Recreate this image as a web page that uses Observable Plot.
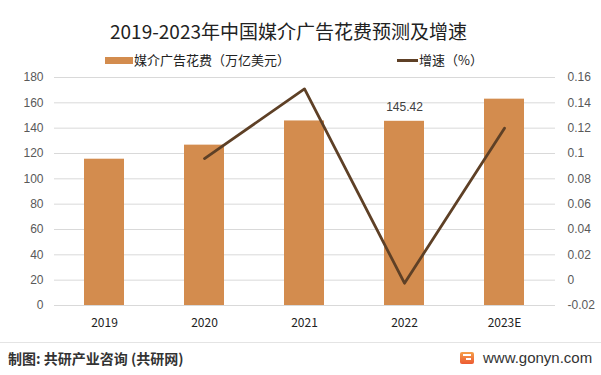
<!DOCTYPE html>
<html><head><meta charset="utf-8">
<script src="https://cdn.jsdelivr.net/npm/d3@7"></script>
<script src="https://cdn.jsdelivr.net/npm/@observablehq/plot@0.6"></script>
<style>
body{margin:0;background:#fff;}
#wrap{position:relative;width:601px;height:375px;overflow:hidden;font-family:"Noto Sans CJK SC","Noto Sans",sans-serif;}
#title{position:absolute;top:16px;left:-12px;width:601px;text-align:center;font-size:19px;color:#222;line-height:30px;}
.leg{position:absolute;top:51px;font-size:13px;color:#222;line-height:18px;display:flex;align-items:center;}
.sw-bar{display:inline-block;width:28px;height:7px;background:#d38c4e;margin-right:1px;}
.sw-line{display:inline-block;width:21px;height:3px;background:#5e4026;margin-right:1px;}
#chart{position:absolute;top:68px;left:0;}
#sep{position:absolute;top:342px;left:0;width:601px;height:1px;background:#e4e4e4;}
#src{position:absolute;top:347px;left:8px;font-size:14px;color:#333;font-weight:bold;line-height:22px;}
#site{position:absolute;top:347px;left:460px;font-size:15px;color:#333;line-height:22px;display:flex;align-items:center;font-family:"Liberation Sans",Arial,sans-serif;}
#logo{width:14px;height:12px;border-radius:2px;background:linear-gradient(#f5a04a,#ec5a32);margin-right:9px;position:relative;}
#logo:before{content:"";position:absolute;left:3px;top:2px;width:8px;height:2px;background:#fff;}
#logo:after{content:"";position:absolute;left:6px;top:6px;width:5px;height:2px;background:#fff;}
</style></head>
<body><div id="wrap">
<div id="title">2019-2023年中国媒介广告花费预测及增速</div>
<div class="leg" style="left:105px"><span class="sw-bar"></span>媒介广告花费（万亿美元）</div>
<div class="leg" style="left:397px"><span class="sw-line"></span>增速（%）</div>
<div id="chart"></div>
<div id="sep"></div>
<div id="src">制图: 共研产业咨询 (共研网)</div>
<div id="site"><span id="logo"></span>www.gonyn.com</div>
</div>
<script>
const years = ["2019","2020","2021","2022","2023E"];
const spend = [115.5, 126.6, 145.7, 145.42, 162.9];
const growth = [null, 0.096, 0.151, -0.0024, 0.12];
const leftTicks = [0,20,40,60,80,100,120,140,160,180];
const rightMin = -0.02, rightMax = 0.16;

const toLeft = g => (g - rightMin) / (rightMax - rightMin) * 180;
const bars = years.map((y,i)=>({year:y, v:spend[i]}));
const line = years.map((y,i)=>({year:y, g:growth[i]})).filter(d=>d.g!==null);
const labels = bars.filter(d=>d.year==="2022");

const plot = Plot.plot({
  width: 601, height: 268,
  marginTop: 9, marginBottom: 31, marginLeft: 54, marginRight: 46,
  style: {fontFamily: '"Liberation Sans",Arial,sans-serif', fontSize: "12px", color: "#595959", background: "transparent"},
  x: {domain: years, paddingInner: 0.6, paddingOuter: 0.3, label: null},
  y: {domain: [0,180], label: null},
  marks: [
    Plot.ruleY(leftTicks, {stroke: "#d9d9d9", strokeWidth: 1}),
    Plot.axisY({ticks: leftTicks, tickSize: 0, tickPadding: 11, label: null, anchor: "left", fill: "#595959"}),
    Plot.axisY({ticks: leftTicks, tickSize: 0, tickPadding: 12, label: null, anchor: "right",
      tickFormat: v => String(+(v/180*(rightMax-rightMin)+rightMin).toFixed(2)), fill: "#595959"}),
    Plot.axisX({tickSize: 0, tickPadding: 13, label: null, fill: "#222", fontFamily: '"Noto Sans CJK SC",sans-serif'}),
    Plot.barY(bars, {x: "year", y: "v", fill: "#d38c4e"}),
    Plot.lineY(line, {x: "year", y: d => toLeft(d.g), stroke: "#5e4026", strokeWidth: 2.8}),
    Plot.text(labels, {x: "year", y: "v", text: d => d.v.toFixed(2), dy: -14, fill: "#404040", fontSize: 12})
  ]
});
document.getElementById("chart").appendChild(plot);
</script>
</body></html>
